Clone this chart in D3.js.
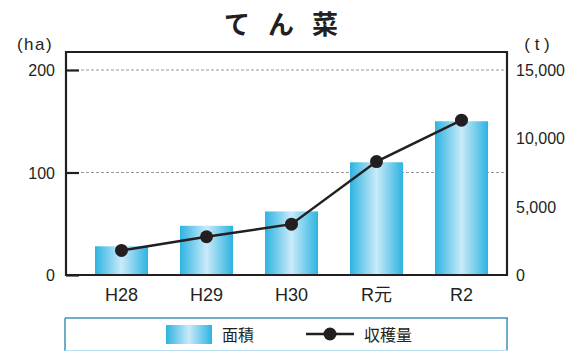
<!DOCTYPE html>
<html><head><meta charset="utf-8">
<script src="https://cdn.jsdelivr.net/npm/d3@7"></script>
<style>
body{margin:0;background:#fff;}
text{font-family:"Liberation Sans",Arial,"Noto Sans CJK JP",sans-serif;fill:#231f20;}
</style></head>
<body><svg id="c" width="577" height="351"></svg>
<script>
const categories = ["H28","H29","H30","R元","R2"];
const area = [28, 48, 62, 110, 150];
const harvest = [1800, 2800, 3720, 8300, 11330];
const leftTicks = [0, 100, 200];
const rightTicks = [0, 5000, 10000, 15000];
const titleChars = ["て","ん","菜"];

const svg = d3.select("#c");
const X0 = 66, X1 = 507, Y0 = 275, Ytop = 52;
const y = d3.scaleLinear().domain([0, 200]).range([Y0, 70]);
const y2 = d3.scaleLinear().domain([0, 15000]).range([Y0, 70]);
const x = d3.scaleBand().domain(categories).range([79, 504]).padding(0);
const bw = x.bandwidth() * 0.624;

const defs = svg.append("defs");
const g = defs.append("linearGradient").attr("id","bar").attr("x1","0").attr("x2","1").attr("y1","0").attr("y2","0");
g.append("stop").attr("offset","0").attr("stop-color","#2db3e1");
g.append("stop").attr("offset","0.5").attr("stop-color","#c9eaf9");
g.append("stop").attr("offset","1").attr("stop-color","#2db3e1");

// title
svg.selectAll(".title").data(titleChars).join("text")
  .attr("x",(d,i)=>237+i*44).attr("y",34).attr("text-anchor","middle")
  .style("font-size","26px").style("font-weight","bold")
  .style("font-family","'Noto Sans CJK JP',sans-serif").text(d=>d);

// grid
svg.selectAll(".grid").data(leftTicks.filter(d=>d>0)).join("line")
  .attr("x1",X0).attr("x2",X1).attr("y1",d=>y(d)).attr("y2",d=>y(d))
  .attr("stroke","#999").attr("stroke-width",1).attr("stroke-dasharray","3,2");

// bars
svg.selectAll(".bar").data(area).join("rect")
  .attr("x",(d,i)=>x(categories[i])+x.bandwidth()/2-bw/2)
  .attr("width",bw).attr("y",d=>y(d)).attr("height",d=>Y0-y(d))
  .attr("fill","url(#bar)");

// frame
svg.append("path").attr("d",`M${X0},${Y0}V${Ytop}H${X1}V${Y0}H${X0}Z`)
  .attr("fill","none").attr("stroke","#231f20").attr("stroke-width",2.2);

// left axis
const la = svg.append("g").attr("transform",`translate(${X0},0)`)
  .call(d3.axisRight(y).tickValues(leftTicks).tickSize(13).tickFormat(""));
la.select(".domain").remove();
la.selectAll("line").attr("stroke","#231f20").attr("stroke-width",2.2);
svg.selectAll(".ll").data(leftTicks).join("text")
  .attr("x",55).attr("y",d=>y(d)+6).attr("text-anchor","end")
  .style("font-size","16px").text(d=>d);
svg.append("text").attr("x",35).attr("y",50).attr("text-anchor","middle")
  .style("font-size","17px").style("letter-spacing","1.5px").text("(ha)");

// right axis labels
svg.selectAll(".rl").data(rightTicks).join("text")
  .attr("x",516).attr("y",d=>y2(d)+6).attr("text-anchor","start")
  .style("font-size","16px").text(d=>d3.format(",")(d));
svg.append("text").attr("x",537).attr("y",50).attr("text-anchor","middle")
  .style("font-size","17px").text("( t )");

// x labels
svg.selectAll(".xl").data(categories).join("text")
  .attr("x",d=>x(d)+x.bandwidth()/2).attr("y",301).attr("text-anchor","middle")
  .style("font-size","18px").text(d=>d);

// line
const line = d3.line().x((d,i)=>x(categories[i])+x.bandwidth()/2).y(d=>y2(d));
svg.append("path").datum(harvest).attr("d",line).attr("fill","none")
  .attr("stroke","#231f20").attr("stroke-width",2.5);
svg.selectAll(".dot").data(harvest).join("circle")
  .attr("cx",(d,i)=>x(categories[i])+x.bandwidth()/2).attr("cy",d=>y2(d))
  .attr("r",6.5).attr("fill","#231f20");

// legend
svg.append("line").attr("x1",65).attr("x2",508).attr("y1",318).attr("y2",318).attr("stroke","#3f90b4").attr("stroke-width",1.5);
svg.append("line").attr("x1",65).attr("x2",65).attr("y1",318).attr("y2",351).attr("stroke","#3f90b4").attr("stroke-width",1.5);
svg.append("line").attr("x1",507).attr("x2",507).attr("y1",318).attr("y2",351).attr("stroke","#3f90b4").attr("stroke-width",1.5);
svg.append("line").attr("x1",65).attr("x2",508).attr("y1",350.5).attr("y2",350.5).attr("stroke","#b9dff0").attr("stroke-width",1);
svg.append("rect").attr("x",166).attr("y",325).attr("width",46).attr("height",19).attr("fill","url(#bar)");
svg.append("text").attr("x",222).attr("y",341).style("font-size","16px")
  .style("font-family","'Noto Sans CJK JP',sans-serif").text("面積");
svg.append("line").attr("x1",306).attr("x2",354).attr("y1",334).attr("y2",334).attr("stroke","#231f20").attr("stroke-width",2.5);
svg.append("circle").attr("cx",330).attr("cy",334).attr("r",6.5).attr("fill","#231f20");
svg.append("text").attr("x",364).attr("y",341).style("font-size","16px")
  .style("font-family","'Noto Sans CJK JP',sans-serif").text("収穫量");
</script></body></html>
